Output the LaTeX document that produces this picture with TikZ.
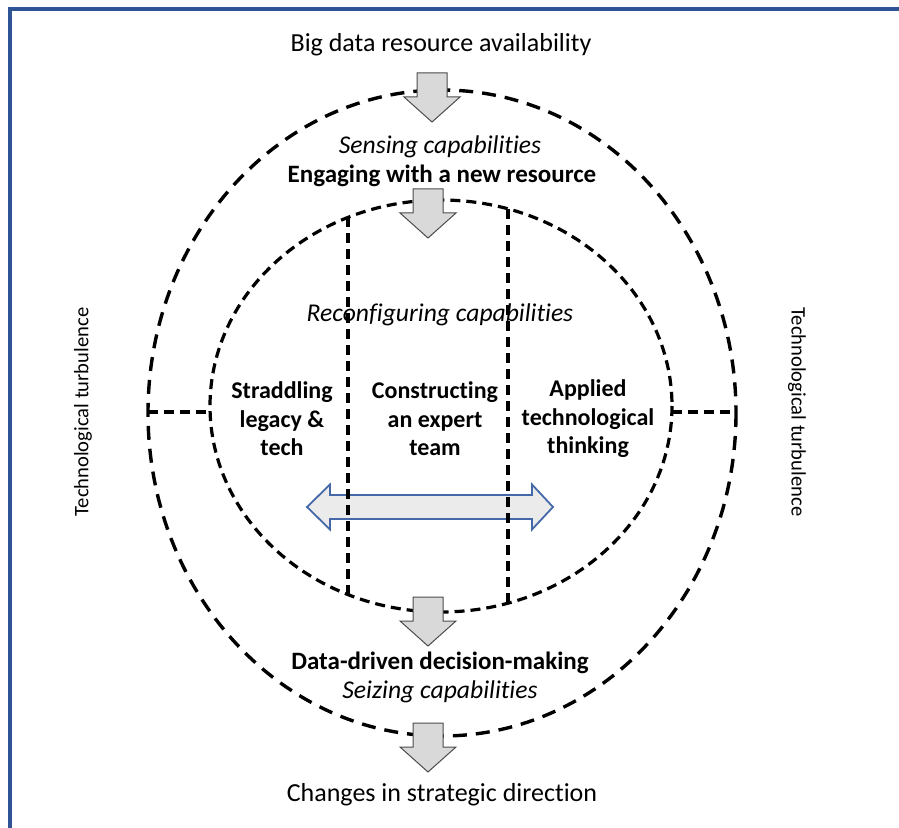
\documentclass[tikz,border=0pt]{standalone}
\usepackage{fontspec}
\setmainfont{Carlito}[Ligatures=NoCommon]
\usetikzlibrary{positioning}
\definecolor{frameblue}{RGB}{47,84,150}
\definecolor{arrowblue}{RGB}{68,104,168}
\definecolor{arrowgray}{RGB}{217,217,217}

\begin{document}
\begin{tikzpicture}[x=0.5pt,y=-0.5pt,
        ringdash/.style={draw=black,line width=1.7pt,dash pattern=on 7pt off 4.5pt},
        coredash/.style={draw=black,line width=1.6pt,dash pattern=on 5pt off 3pt},
        blockarrow/.style={draw=black!70,fill=arrowgray,line width=0.5pt},
        twoway/.style={draw=arrowblue,fill=black!8,line width=0.9pt},
        plain/.style={font=\fontsize{13}{15}\selectfont},
        ital/.style={font=\fontsize{12.8}{15}\selectfont\itshape},
        bold/.style={font=\fontsize{12.5}{15}\selectfont\bfseries},
        cell/.style={font=\fontsize{12}{14.25}\selectfont\bfseries,align=center},
        side/.style={font=\fontsize{10.3}{12}\selectfont},
        downarrow/.pic={
            \draw[blockarrow] (-15,0) -- (15,0) -- (15,24) -- (28,24)
                -- (0,49) -- (-28,24) -- (-15,24) -- cycle;},
    ]

    \useasboundingbox (0,0) rectangle (899,828);

    % frame (only top and left edge show)
    \draw[frameblue,line width=2pt] (10,828) -- (10,9.5) -- (899,9.5);

    % sensing ring and reconfiguring core
    \draw[ringdash] (442,413) ellipse [x radius=294, y radius=323];
    \draw[coredash] (441,406) ellipse [x radius=231, y radius=206];

    % where the ties meet the rings
    \coordinate (OL) at (148,412);
    \coordinate (IL) at (210,412);
    \coordinate (IR) at (672,412);
    \coordinate (OR) at (736,412);
    \draw[coredash] (OL) -- (IL);
    \draw[coredash] (IR) -- (OR);

    % two-way arrow across the core
    \draw[twoway] (307,507) -- (330,484.5) -- (330,495) -- (532,495)
        -- (532,484.5) -- (553,507) -- (532,529.5) -- (532,519)
        -- (330,519) -- (330,529.5) -- cycle;

    % column borders
    \coordinate (A1) at (348,217);
    \coordinate (A2) at (348,595);
    \coordinate (B1) at (508,209);
    \coordinate (B2) at (508,603);
    \draw[coredash] (A1) -- (A2);
    \draw[coredash] (B1) -- (B2);

    % flow arrows
    \pic at (432,73) {downarrow};
    \pic at (428,189) {downarrow};
    \pic at (428,597) {downarrow};
    \pic at (428,723) {downarrow};

    % labels
    \node[plain] (source) at (441,45) {Big data resource availability};
    \node[ital] (sensing) at (440,147) {Sensing capabilities};
    \node[bold] (engage) at (442,176) {Engaging with a new resource};
    \node[ital] (reconf) at (440,315) {Reconfiguring capabilities};
    \node[cell] (straddle) at (282,419) {Straddling\\legacy \&\\tech};
    \node[cell] (team) at (435,419) {Constructing\\an expert\\team};
    \node[cell] (applied) at (588,419) {Applied\\technological\\thinking};
    \node[bold] (decide) at (440,663) {Data-driven decision-making};
    \node[ital] (seizing) at (440,692) {Seizing capabilities};
    \node[plain] (change) at (442,795) {Changes in strategic direction};
    \node[side,rotate=90] (turbL) at (83,412) {Technological turbulence};
    \node[side,rotate=-90] (turbR) at (797,412) {Technological turbulence};

\end{tikzpicture}
\end{document}
